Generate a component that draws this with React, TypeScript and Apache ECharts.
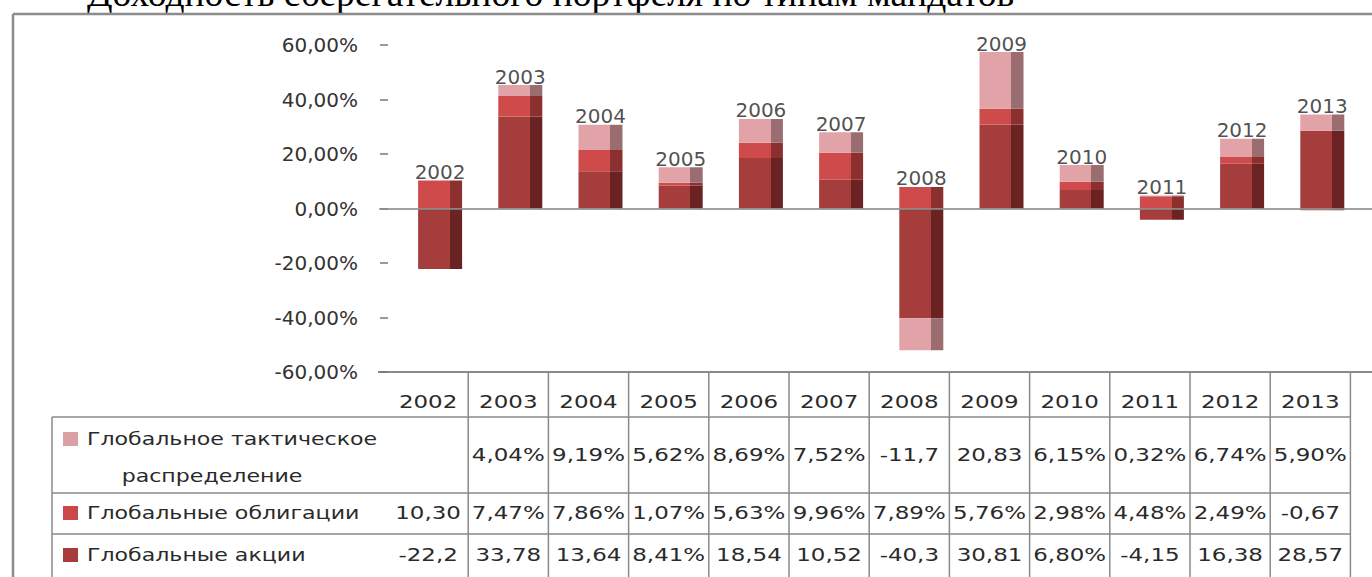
import React, { useEffect, useRef } from "react";
import * as echarts from "echarts";

// ---- data ----
const years = ["2002", "2003", "2004", "2005", "2006", "2007", "2008", "2009", "2010", "2011", "2012", "2013"];
// Глобальные акции
const equities = [-22.2, 33.78, 13.64, 8.41, 18.54, 10.52, -40.3, 30.81, 6.8, -4.15, 16.38, 28.57];
// Глобальные облигации
const bonds = [10.3, 7.47, 7.86, 1.07, 5.63, 9.96, 7.89, 5.76, 2.98, 4.48, 2.49, -0.67];
// Глобальное тактическое распределение
const tactical: (number | null)[] = [null, 4.04, 9.19, 5.62, 8.69, 7.52, -11.7, 20.83, 6.15, 0.32, 6.74, 5.9];
const seriesNames = ["Глобальные акции", "Глобальные облигации", "Глобальное тактическое распределение"];
const yMin = -60;
const yMax = 60;
const yInterval = 20;
const titleText = "Доходность сберегательного портфеля по типам мандатов";

// ---- styles ----
const colors = [
  { front: "#a63d3d", side: "#6a2222", legend: "#a83b3b" },
  { front: "#cf4b4b", side: "#8c2f2f", legend: "#cc4848" },
  { front: "#e1a3a8", side: "#9a6d70", legend: "#dba0a5" },
];
const FONT = "DejaVu Sans";
const TXT = "#2a2a2a";
const LINE = "#8a8a8a";

function pctLabel(v: number) {
  return v.toFixed(2).replace(".", ",") + "%";
}
function cellText(v: number | null) {
  if (v === null || v === undefined) return "";
  return pctLabel(v).slice(0, 5);
}

function grad(front: string, side: string) {
  return new echarts.graphic.LinearGradient(0, 0, 1, 0, [
    { offset: 0, color: front },
    { offset: 0.72, color: front },
    { offset: 0.72, color: side },
    { offset: 1, color: side },
  ]);
}

function buildGraphic() {
  const g: any[] = [];
  // title (cut off at the top, as in the scan)
  g.push({
    type: "text",
    x: 87,
    y: -6.5,
    style: { text: titleText, font: "37.5px 'Liberation Serif'", fill: "#000", align: "left", verticalAlign: "middle" },
  });
  // frame
  g.push({ type: "line", shape: { x1: 13, y1: 14, x2: 1372, y2: 14 }, style: { stroke: "#8c8c8c", lineWidth: 2.5 } });
  g.push({ type: "line", shape: { x1: 13, y1: 14, x2: 13, y2: 577 }, style: { stroke: "#8c8c8c", lineWidth: 2.5 } });

  // data table
  const tLeft = 388;
  const colW = 80.2;
  const headTop = 372;
  const rowTops = [417, 493, 534];
  const bottom = 580;
  g.push({ type: "line", shape: { x1: 378, y1: headTop, x2: 1372, y2: headTop }, style: { stroke: LINE, lineWidth: 2 } });
  for (let k = 1; k <= years.length; k++) {
    const x = tLeft + colW * k;
    g.push({ type: "line", shape: { x1: x, y1: headTop, x2: x, y2: bottom }, style: { stroke: LINE, lineWidth: 1.5 } });
  }
  g.push({ type: "line", shape: { x1: 52, y1: rowTops[0], x2: 52, y2: bottom }, style: { stroke: LINE, lineWidth: 1.5 } });
  rowTops.forEach((y) => {
    g.push({ type: "line", shape: { x1: 52, y1: y, x2: tLeft + colW * years.length, y2: y }, style: { stroke: LINE, lineWidth: 1.5 } });
  });
  const cellStyle = (text: string, align: string) => ({
    text,
    font: `17px '${FONT}'`,
    fill: TXT,
    align,
    verticalAlign: "middle",
  });
  // header
  years.forEach((yr, i) => {
    g.push({ type: "text", x: tLeft + colW * (i + 0.5), y: 402, scaleX: 1.35, style: cellStyle(yr, "center") });
  });
  // rows: tactical, bonds, equities
  const rows = [
    { data: tactical, y: 455, c: colors[2], lines: [{ t: "Глобальное тактическое", x: 87, y: 439, a: "left" }, { t: "распределение", x: 212, y: 476, a: "center" }], sq: 439 },
    { data: bonds, y: 513, c: colors[1], lines: [{ t: seriesNames[1], x: 87, y: 513, a: "left" }], sq: 513 },
    { data: equities, y: 555, c: colors[0], lines: [{ t: seriesNames[0], x: 87, y: 555, a: "left" }], sq: 555 },
  ];
  rows.forEach((r) => {
    g.push({ type: "rect", shape: { x: 63, y: r.sq - 7, width: 15, height: 14 }, style: { fill: r.c.legend } });
    r.lines.forEach((l) => {
      g.push({ type: "text", x: l.x, y: l.y, scaleX: 1.3, style: cellStyle(l.t, l.a) });
    });
    (r.data as (number | null)[]).forEach((v, i) => {
      const t = cellText(v);
      if (t) g.push({ type: "text", x: tLeft + colW * (i + 0.5), y: r.y, scaleX: 1.35, style: cellStyle(t, "center") });
    });
  });
  return g;
}

export default function App() {
  const ref = useRef<HTMLDivElement>(null);
  useEffect(() => {
    if (!ref.current) return;
    const chart = echarts.init(ref.current, null, { renderer: "svg" });
    const posTotals = years.map((_, i) =>
      [equities[i], bonds[i], tactical[i]].reduce((s: number, v) => (v !== null && (v as number) > 0 ? s + (v as number) : s), 0)
    );
    const stackData = [equities, bonds, tactical];
    chart.setOption({
      animation: false,
      backgroundColor: "#ffffff",
      grid: [
        { left: 380, right: 0, top: 45, bottom: 205 },
        { left: 400, right: 9.6, top: 45, bottom: 205 },
      ],
      xAxis: [
        {
          gridIndex: 0,
          type: "category",
          data: years,
          z: 10,
          axisLine: { show: true, onZero: true, lineStyle: { color: LINE, width: 2, opacity: 0.8 } },
          axisTick: { show: false },
          axisLabel: { show: false },
          splitLine: { show: false },
        },
        { gridIndex: 1, type: "category", data: years, show: false },
      ],
      yAxis: [
        {
          gridIndex: 0,
          type: "value",
          min: yMin,
          max: yMax,
          interval: yInterval,
          axisLine: { show: false },
          axisTick: { show: true, inside: true, length: 8, lineStyle: { color: "#777", width: 1.5 } },
          axisLabel: { formatter: (v: number) => pctLabel(v), margin: 22, fontSize: 20, fontFamily: FONT, color: "#333" },
          splitLine: { show: false },
        },
        { gridIndex: 1, type: "value", min: yMin, max: yMax, interval: yInterval, show: false, splitLine: { show: false } },
      ],
      series: [
        ...stackData.map((d, k) => ({
          name: seriesNames[k],
          type: "bar",
          xAxisIndex: 1,
          yAxisIndex: 1,
          stack: "total",
          barWidth: 44,
          data: d,
          itemStyle: { color: grad(colors[k].front, colors[k].side) },
        })),
        {
          type: "scatter",
          xAxisIndex: 1,
          yAxisIndex: 1,
          data: posTotals,
          symbolSize: 1,
          itemStyle: { color: "rgba(0,0,0,0)" },
          z: 6,
          label: {
            show: true,
            position: "top",
            distance: -2,
            formatter: (p: any) => years[p.dataIndex],
            fontFamily: FONT,
            fontSize: 20,
            color: "#222",
          },
        },
      ],
      graphic: buildGraphic(),
    });
    return () => chart.dispose();
  }, []);
  return (
    <div
      ref={ref}
      style={{ position: "absolute", left: 0, top: 0, width: 1372, height: 577, background: "#fff" }}
    />
  );
}
